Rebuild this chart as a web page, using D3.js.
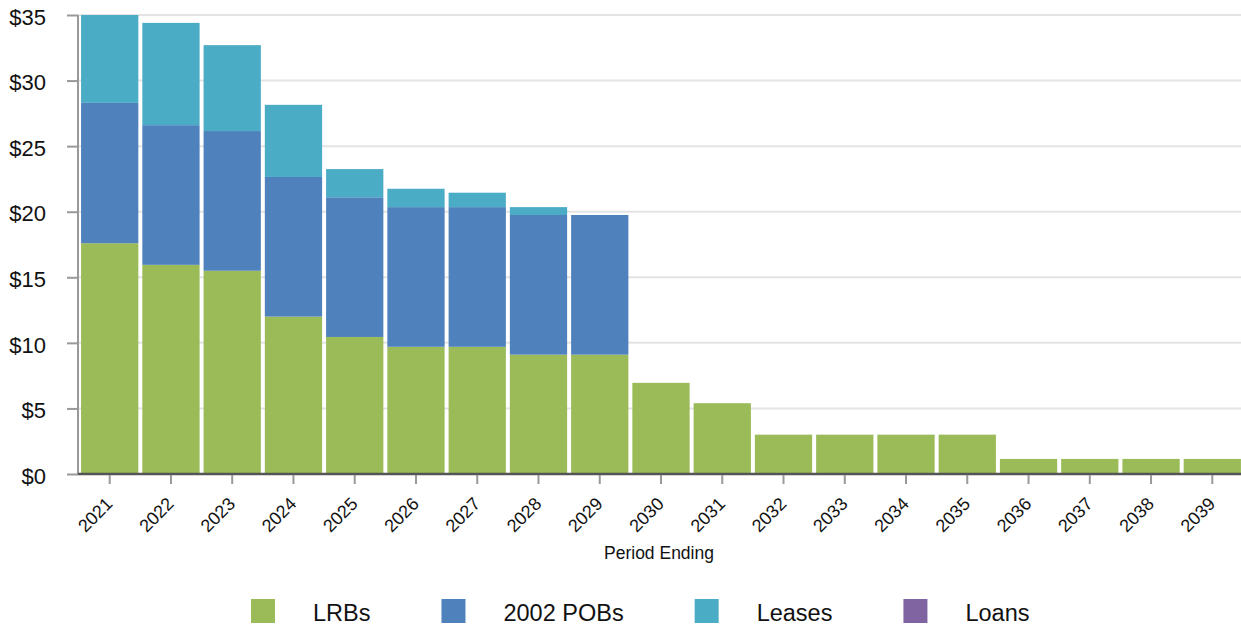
<!DOCTYPE html>
<html>
<head>
<meta charset="utf-8">
<script src="https://cdn.jsdelivr.net/npm/d3@7"></script>
<style>
  html, body { margin: 0; padding: 0; background: #fff; }
  svg { display: block; font-family: "Liberation Sans", Arial, sans-serif; }
</style>
</head>
<body>
<svg id="chart" width="1241" height="626"></svg>
<script>
// Debt service by period ending, $ millions
const years = ["2021","2022","2023","2024","2025","2026","2027","2028","2029","2030",
               "2031","2032","2033","2034","2035","2036","2037","2038","2039"];
const lrbs   = [17.6, 15.95, 15.5, 12.0, 10.45, 9.7, 9.7, 9.1, 9.1, 6.95,
                5.4, 3.0, 3.0, 3.0, 3.0, 1.15, 1.15, 1.15, 1.15];
const pobs   = [10.7, 10.65, 10.65, 10.65, 10.65, 10.65, 10.65, 10.65, 10.65, 0,
                0, 0, 0, 0, 0, 0, 0, 0, 0];
const leases = [6.7, 7.8, 6.55, 5.5, 2.15, 1.4, 1.1, 0.6, 0, 0,
                0, 0, 0, 0, 0, 0, 0, 0, 0];
const loans  = [0, 0, 0, 0, 0, 0, 0, 0, 0, 0,
                0, 0, 0, 0, 0, 0, 0, 0, 0];
const seriesNames = ["LRBs", "2002 POBs", "Leases", "Loans"];
const seriesColors = ["#9bbb59", "#4f81bd", "#4bacc6", "#8064a2"];
const yTicks = [0, 5, 10, 15, 20, 25, 30, 35];
const xTitle = "Period Ending";

const svg = d3.select("#chart");
const plotLeft = 78, plotRight = 1244, plotTop = 15, plotBottom = 474;

const rows = years.map((yr, i) => ({
  year: yr, "LRBs": lrbs[i], "2002 POBs": pobs[i], "Leases": leases[i], "Loans": loans[i]
}));
const stacked = d3.stack().keys(seriesNames)(rows);

const x = d3.scaleBand().domain(years).range([plotLeft, plotRight])
  .paddingInner(0.065).paddingOuter(0.05);
const y = d3.scaleLinear().domain([0, 35]).range([plotBottom, plotTop]);

// horizontal gridlines
svg.append("g").selectAll("line").data(yTicks.filter(d => d > 0)).join("line")
  .attr("x1", plotLeft).attr("x2", 1241)
  .attr("y1", d => y(d)).attr("y2", d => y(d))
  .attr("stroke", "#e4e4e4").attr("stroke-width", 2);

// stacked bars
svg.append("g").selectAll("g").data(stacked).join("g")
  .attr("fill", (d, i) => seriesColors[i])
  .selectAll("rect").data(d => d).join("rect")
  .attr("x", d => x(d.data.year))
  .attr("width", x.bandwidth())
  .attr("y", d => y(d[1]))
  .attr("height", d => Math.max(0, y(d[0]) - y(d[1])));

// y axis
const yAxis = svg.append("g").attr("transform", `translate(${plotLeft},0)`)
  .call(d3.axisLeft(y).tickValues(yTicks).tickFormat(d => "$" + d).tickSize(11).tickPadding(21));
yAxis.select(".domain").attr("stroke", "#999").attr("stroke-width", 2).attr("d", `M0,${plotTop}V${plotBottom}`);
yAxis.selectAll(".tick line").attr("stroke", "#999").attr("stroke-width", 2);
yAxis.selectAll(".tick text").attr("font-size", 22).attr("fill", "#111")
  .attr("font-family", "Liberation Sans, Arial, sans-serif").attr("dy", "0.42em");

// x axis
const xAxis = svg.append("g").attr("transform", `translate(0,${plotBottom})`)
  .call(d3.axisBottom(x).tickSize(10).tickSizeOuter(0));
xAxis.select(".domain").attr("stroke", "#555").attr("stroke-width", 2.5)
  .attr("d", `M${plotLeft},0H1241`);
xAxis.selectAll(".tick line").attr("stroke", "#999").attr("stroke-width", 2).attr("y1", 1);
xAxis.selectAll(".tick text")
  .attr("font-size", 18).attr("fill", "#111")
  .attr("font-family", "Liberation Sans, Arial, sans-serif")
  .attr("text-anchor", "end")
  .attr("dy", null)
  .attr("transform", "translate(4,31) rotate(-45)")
  .attr("y", 0);

svg.append("text")
  .attr("x", 659).attr("y", 559)
  .attr("text-anchor", "middle")
  .attr("font-size", 17.5).attr("fill", "#111")
  .text(xTitle);

// legend
const legend = svg.append("g");
let lx = 251;
seriesNames.forEach((name, i) => {
  legend.append("rect").attr("x", lx).attr("y", 599).attr("width", 24).attr("height", 24)
    .attr("fill", seriesColors[i]);
  const t = legend.append("text").attr("x", lx + 62).attr("y", 621)
    .attr("font-size", 23.5).attr("fill", "#111").text(name);
  lx = lx + 62 + t.node().getComputedTextLength() + 71;
});
</script>
</body>
</html>
